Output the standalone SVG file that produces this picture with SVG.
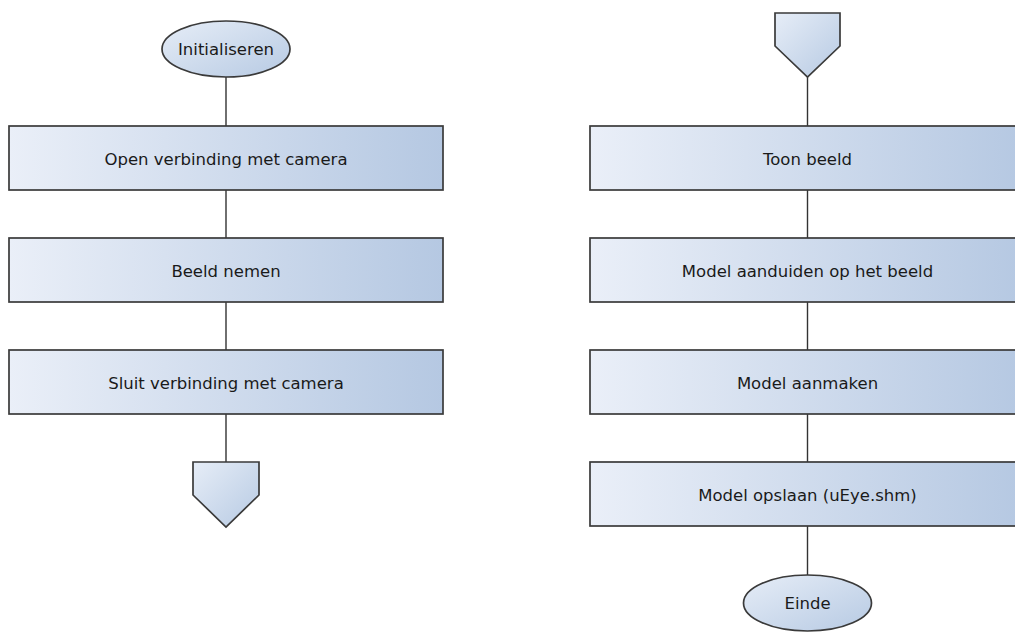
<svg xmlns="http://www.w3.org/2000/svg" width="1015" height="635" viewBox="0 0 1015 635">
<defs>
<linearGradient id="gBox" x1="0" y1="0" x2="1" y2="0">
<stop offset="0" stop-color="#eaeff8"/>
<stop offset="1" stop-color="#b5c8e2"/>
</linearGradient>
<linearGradient id="gShape" x1="0" y1="0" x2="1" y2="1">
<stop offset="0" stop-color="#e6edf7"/>
<stop offset="1" stop-color="#b7cae3"/>
</linearGradient>
</defs>
<style>
.box{fill:url(#gBox);stroke:#3a3a3a;stroke-width:1.7}
.shape{fill:url(#gShape);stroke:#3a3a3a;stroke-width:1.7}
.lbl{font-family:"DejaVu Sans",Verdana,sans-serif;font-size:16.5px;fill:#1a1a1a;text-anchor:middle}
.conn line{stroke:#333;stroke-width:1.4}
</style>
<g id="connectors" class="conn">
<line x1="226" y1="77" x2="226" y2="126"/>
<line x1="226" y1="190" x2="226" y2="238"/>
<line x1="226" y1="302" x2="226" y2="350"/>
<line x1="226" y1="414" x2="226" y2="462"/>
<line x1="807.5" y1="77" x2="807.5" y2="126"/>
<line x1="807.5" y1="190" x2="807.5" y2="238"/>
<line x1="807.5" y1="302" x2="807.5" y2="350"/>
<line x1="807.5" y1="414" x2="807.5" y2="462"/>
<line x1="807.5" y1="526" x2="807.5" y2="575"/>
</g>
<g id="n-init"><ellipse class="shape" cx="226" cy="49" rx="64" ry="28"/><text class="lbl" x="226" y="55">Initialiseren</text></g>
<g id="n-open"><rect class="box" x="9" y="126" width="434" height="64"/><text class="lbl" x="226" y="165">Open verbinding met camera</text></g>
<g id="n-beeld"><rect class="box" x="9" y="238" width="434" height="64"/><text class="lbl" x="226" y="277">Beeld nemen</text></g>
<g id="n-sluit"><rect class="box" x="9" y="350" width="434" height="64"/><text class="lbl" x="226" y="389">Sluit verbinding met camera</text></g>
<g id="n-off1"><polygon class="shape" points="193,462 259,462 259,495 226,527 193,495"/></g>
<g id="n-off2"><polygon class="shape" points="775,13 840,13 840,46 807.5,77 775,46"/></g>
<g id="n-toon"><rect class="box" x="590" y="126" width="435" height="64"/><text class="lbl" x="807.5" y="165">Toon beeld</text></g>
<g id="n-aanduiden"><rect class="box" x="590" y="238" width="435" height="64"/><text class="lbl" x="807.5" y="277">Model aanduiden op het beeld</text></g>
<g id="n-aanmaken"><rect class="box" x="590" y="350" width="435" height="64"/><text class="lbl" x="807.5" y="389">Model aanmaken</text></g>
<g id="n-opslaan"><rect class="box" x="590" y="462" width="435" height="64"/><text class="lbl" x="807.5" y="501">Model opslaan (uEye.shm)</text></g>
<g id="n-einde"><ellipse class="shape" cx="807.5" cy="603" rx="64" ry="28"/><text class="lbl" x="807.5" y="609">Einde</text></g>
</svg>
